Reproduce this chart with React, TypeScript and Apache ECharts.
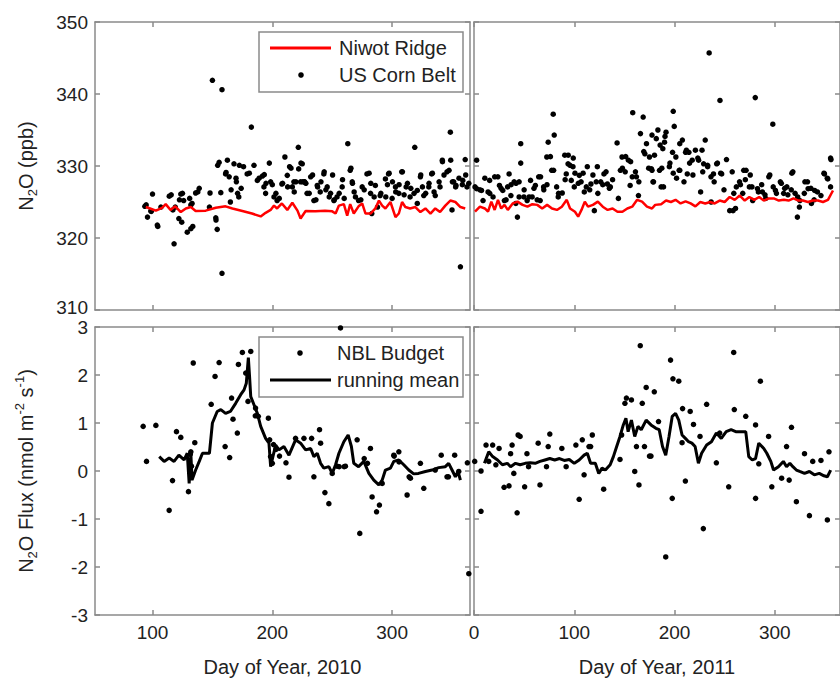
import React, { useEffect, useRef } from "react";
import * as echarts from "echarts";

// ---------- data ----------
const xTicks2010 = [100, 200, 300];
const xTicks2011 = [0, 100, 200, 300];

const niwot2010: [number, number][] = [
  [94.4,324.3],[98,324.1],[102.8,323.8],[108,324.2],[111,324.7],[115,323.9],[119,324.4],[123.6,323.6],[127.8,324.1],[132,324.3],[136,323.75],[144.4,323.8],[152.8,324.2],[161,324.4],[166.7,324.1],[175,323.75],[183,323.4],[190.3,323],[194.4,323.5],[198.6,323.9],[201.4,324.5],[204,324.1],[208,324.8],[212.5,323.9],[216.7,324.9],[221,323.8],[223.6,322.7],[227.8,323.75],[236,323.7],[244,323.8],[250,323.7],[252.8,323.4],[255.6,324.5],[259.7,324.7],[262.5,323.1],[265,324.7],[268,323.4],[272,324.4],[275,324.8],[277.8,323.4],[282,323.4],[286,324.1],[289,325.2],[291.7,324.5],[294.4,324.1],[298.6,325],[302.8,322.9],[305.6,323.4],[308.3,325],[311,324.3],[315,324.1],[319.4,324.3],[323.6,323.6],[327.8,324.1],[332,323.4],[336,324.1],[340,323.6],[344.4,324.5],[348.6,325.2],[352.8,325],[357,324.3],[361,324.1]
];

const cornBelt2010: [number, number][] = [
  [93.6,324.4],[94.7,324.6],[95.8,322.9],[98.6,323.75],[99,323.7],[100,326.1],[104,321.8],[104.4,321.6],[107,324.3],[114,325.8],[115.6,326],[117,323.9],[118,319.2],[119,324.3],[122.5,325.3],[122,322.7],[123.6,326.1],[124.4,322.2],[125,326.2],[126,325.2],[129,320.8],[131,325.5],[132,321.3],[132,324.6],[133,324.8],[133.6,321.6],[136,326.25],[137.8,326.4],[139,326.9],[147.5,324.3],[148,326.25],[150,341.9],[152.8,322.8],[153,322.5],[154,321.2],[154.4,330.1],[155.6,330.5],[157,326.3],[158,340.6],[158,315.1],[161,328.9],[161.4,329.1],[162.5,330.8],[164,328.5],[165,325],[165.6,326.7],[168,330.3],[169.7,328.3],[170,327.8],[171,326.2],[172,325.7],[172.5,330.1],[174,326.9],[176,329.9],[179,328.9],[180.8,329],[182.5,335.4],[184.7,330.1],[187.5,328],[189,328.3],[191.7,328.6],[193,327.1],[193.3,328.8],[194.4,326.2],[194.7,327.6],[197.5,330.4],[198.6,327.8],[200,327.4],[201.4,325.7],[203,326.2],[204,325.2],[205.8,325.5],[208,327.5],[208.6,327.6],[210.5,331.25],[212.5,328.7],[212.8,327.1],[214.4,329.9],[215.6,329.7],[216.7,327.1],[218,327.8],[218.3,326.4],[219.7,327.8],[221.7,332.6],[222,329.6],[223.6,327.8],[223.9,330.4],[225,330.3],[225.3,327.8],[227,327.8],[228,327.6],[229,326.2],[232,328.5],[234.7,325.2],[237.5,327.3],[240,326.4],[243,328.9],[245.8,327.1],[248.6,326.2],[251.4,325.2],[254,325.7],[258.3,327.1],[263,333.1],[265,329.4],[266.7,327.8],[269.4,325.7],[272,325.2],[275,327.1],[279,328.9],[282,326.2],[283,323.4],[286,327.3],[290,325.9],[294.4,328.2],[297,328.9],[300,325.5],[302.8,327.1],[305.6,326.2],[308,329.2],[311.7,327.1],[315,325.7],[318.9,332.6],[321,326.6],[323.6,328.5],[326.4,325.9],[330.6,327.1],[333,328.9],[336,325.9],[340,327.1],[342,330.6],[345.8,329.2],[348.6,334.7],[350,323.9],[351.4,327.8],[353.3,327.3],[357,316],[359,328],[361,330.9],[362.5,327.1],
  [226.7,327.8],[233.6,328.75],[230.8,326.2],[237.8,327.1],[236.4,325.3],[240.6,327.8],[243.3,329.2],[244.7,326.7],[247.5,325.7],[250.3,328.75],[251.7,325.3],[255.8,326.2],[258.6,328.1],[260,325.5],[265.6,329.7],[266.9,327.6],[268.3,326.4],[273.9,325.3],[276.7,326.7],[280.8,329],[282.2,327.6],[285,325.7],[287.8,324.3],[290.6,326.2],[294.7,325.7],[297.5,329],[296.1,327.4],[300.3,327.8],[303,326.4],[305.8,327.4],[308.6,329.2],[310,326],[312.8,327.6],[315.6,326.9],[318.3,326.2],[321,324.8],[323.9,328.75],[325.3,327.1],[328,326.2],[330.8,327.6],[333.6,329],[335,326.4],[339.2,327.8],[341.9,330.8],[343.3,328.75],[347.5,329.4],[348.9,330.8],[350.3,327.8],[353,327.1],[355.8,328.3],[358.6,327.4],[361.4,328.75],[364,327.6]
];

const niwot2011: [number, number][] = [
  [1,323.65],[5.9,324.35],[10.8,324.1],[14,323.65],[17.3,325.05],[20.6,323.9],[23.9,325.3],[27.1,324.1],[30.4,324.6],[33.7,323.9],[38.6,324.8],[43.5,325.05],[48.4,324.6],[53.3,324.35],[58.2,324.7],[63.1,324.6],[68,324.1],[72.9,324.6],[77.8,324.1],[82.7,323.9],[87.6,324.35],[92.5,325.3],[95.8,324.1],[100.7,323.65],[103.9,322.96],[107.2,323.9],[110.5,325.05],[113.7,324.35],[118.6,324.6],[123.5,325.05],[128.4,324.35],[133.3,323.9],[138.2,324.1],[143.1,323.65],[148,323.65],[152.9,324.1],[157.8,324.35],[162.7,325.3],[167.6,325.05],[172.5,324.35],[177.5,324.1],[180.7,324.6],
  [186.6,324.7],[191.5,325.2],[196.4,325],[201,325.3],[206,324.8],[211,325.1],[216,324.8],[220.8,324.4],[225.7,325],[230.6,324.8],[235.5,325],[240,324.8],[245,325.2],[250,325],[255,325.7],[260,325.3],[265,325.9],[270,325.2],[274.6,325.7],[279.5,325.3],[284.4,325.7],[289,325.2],[294,325.5],[299,325.5],[304,325.2],[309,325.3],[313.7,325.2],[318.6,325.5],[323.5,325.2],[328,325.2],[333,325],[338,325.2],[343,325.2],[348,325],[353,325.3],[358,326.6]
];

const cornBelt2011: [number, number][] = [
  [2.6,326.85],[2.6,330.8],[7.5,326.6],[9,325.2],[14,326.4],[15.6,328],[19,325.7],[23.8,328.5],[25.4,327.3],[28.7,326.6],[30.3,325.2],[33.5,327.1],[35,328.9],[36.8,325.9],[40,327.8],[41.7,324.8],[43.3,322.9],[45,327.8],[46.6,333.1],[46.6,330.4],[49.8,325.7],[53,325.2],[56.4,328],[58,325.7],[61.2,327.3],[64.5,328.5],[66,325.2],[69.4,327.1],[72.6,331.25],[74,333.3],[77.5,329.4],[79,337.2],[80,334.3],[82.4,327.1],[84,325.7],[88,326.25],[90.5,331.5],[92,328.9],[93.8,330.3],[97,328],[98.7,329.9],[100,327.1],[105,328.7],[106.8,327.8],[110,326.4],[113,329.9],[116.6,327.5],[120,323.8],[123,329.9],[126.4,327.8],[129.6,328.9],[133,327.5],[136,327.1],[142.7,333.2],[144,325.5],[146,329.4],[147.6,331.25],[150.8,329.2],[154,330.8],[155.7,327.3],[158.3,337.4],[162,328.5],[164,325.9],[166,334.5],[168.7,336.8],[170.4,331.7],[172,333.1],[175,331.25],[177,329.6],[178.5,327.8],[180,331.5],[181.8,333.8],[183.4,335],[185,329.4],[186.6,327.1],[188.3,332.4],[190,333.3],[191.5,334.7],[194.8,329.9],[198,331.9],[198.7,337.6],[199.7,335.5],[201.3,331.25],[204.6,329.4],[207.8,333.6],[209.4,327.8],[211,331.9],[212.7,328.9],[214.3,331.9],[217.6,330.8],[220.8,332.2],[224,330.8],[226,326.4],[227.4,332.2],[229,330.3],[230.6,333.6],[233,329.9],[234.5,345.7],[236.5,325],[238.8,328.9],[242,330.3],[245.3,339.1],[247,328.9],[251.8,330.9],[255,323.8],[258.3,323.8],[261.6,327.1],[264.8,327.8],[268,326.2],[271.3,329.4],[274.6,327.1],[277.9,325.2],[280.5,339.5],[282.7,326.85],[287.6,326.4],[290.9,325.5],[294,328.5],[298,335.8],[300.6,326.6],[305.5,327.8],[308.8,326.2],[312,327.1],[317,329],[320.2,326.2],[322.5,322.9],[325,325.2],[330,327.8],[333.2,326.85],[336.5,324.8],[339.7,326.6],[346,325.9],[349.5,328.9],[352.8,328.2],[356,330.9],
  [1,327.1],[5.9,326.7],[10.8,328.3],[15.7,326.2],[20.6,328.5],[27,326.9],[32,325.3],[37,327.4],[41.9,327.6],[45,325.7],[50,326.7],[55,325.7],[59.8,326.9],[63,325.3],[66.4,328.5],[69.6,326.7],[72.8,327.4],[76.2,331.3],[79.4,329.4],[84.3,326.2],[90.9,328.1],[94,331.5],[95.8,330.1],[99,331.1],[100.7,329],[104,327.6],[108.8,329],[112,327.1],[115.4,326.7],[118.6,328.75],[121.9,327.8],[123.5,326.2],[128.4,327.4],[131.7,329.2],[135,326.9],[138.2,328.1],[148,329.7],[151.3,331.3],[156.2,330.6],[157.8,328.5],[161,329.2],[164.4,327.8],[169.3,332],[174.2,329.7],[177.5,334.3],
  [177.5,329.4],[179,327.8],[185.6,332.9],[187.3,329.7],[189,327.1],[190.5,334.1],[195.4,330.4],[198.7,329],[202,328.3],[205.2,329.4],[205.2,333.1],[211.8,332.2],[215,330.4],[218.3,328.75],[223.2,331.1],[228.1,329.2],[233,330.1],[236.3,328.5],[239.5,327.8],[242.8,330.4],[246,329],[249.3,326.7],[257.5,329.2],[259.1,326.2],[260.8,324.1],[265.7,327.4],[269,329.4],[270.6,328.1],[275.5,328.75],[277.2,327.1],[283.6,326.4],[286.9,327.4],[290.2,326],[295,328.75],[298.4,327.1],[301.6,326.2],[306.5,327.6],[309.8,326.9],[313,326],[316.4,326.7],[318,329.2],[322.8,325.7],[324.5,324.3],[329.4,326.2],[332.6,327.8],[336,326.9],[339.2,325.3],[342.5,326.4],[349,329],[352.3,328.3],[355.6,331.1],[355.6,327.1]
];

const nbl2010: [number, number][] = [
  [92.2,0.93],[95,0.2],[102.8,0.95],[113.9,-0.82],[116.7,-0.2],[120,0.82],[123.6,0.7],[130,-0.43],[131.5,0.35],[132,0.4],[132.5,0.1],[134,2.25],[135.3,0.59],[149,1.39],[152.2,1.97],[155.6,2.26],[160.6,0.51],[164.4,0.28],[166,1.52],[167.2,1.08],[170.8,0.79],[171.7,2.22],[175,2.47],[177.8,2.04],[179.7,1.45],[182,2.49],[185.8,1.15],[186,1.31],[188.3,1.14],[196.7,1.1],[197.8,0.65],[198.5,0.3],[200,0.16],[201,0.55],[203,0.45],[206,0.31],[211.4,0.17],[213.9,-0.13],[219.4,0.68],[226.4,0.68],[232.8,0.68],[234.7,-0.12],[239.4,0.86],[240.3,0.58],[243.9,-0.45],[247.2,-0.68],[250,-0.05],[254,0.1],[255.8,0.09],[256.9,2.98],[260,0.09],[261,0.1],[270.8,0.65],[273,-1.3],[276.7,0.26],[279.4,0.16],[281.9,0.47],[283.3,-0.54],[287,-0.85],[289.4,-0.71],[291.7,-0.26],[301.4,0.33],[301.7,0.31],[305.6,0.4],[305.8,0.19],[312.5,-0.5],[314.2,-0.12],[315.3,-0.15],[323.6,0.16],[326.4,-0.36],[336,0.02],[341,0.33],[345.8,-0.12],[347,-0.12],[352.2,0.33],[355.6,-0.01],[362.8,0.17],[364,-2.14]
];

const mean2010: [number, number][] = [
  [105.6,0.3],[109.7,0.2],[113.9,0.27],[118,0.2],[122,0.33],[126.4,0.23],[129,0.37],[130.6,-0.26],[132,0.37],[133,-0.19],[136,0.02],[139,0.2],[141.7,0.37],[145.8,0.37],[147.5,0.37],[150,1.0],[154,1.24],[157,1.28],[161,1.2],[165,1.24],[169.4,1.41],[173.6,1.59],[176.4,1.69],[178.3,1.83],[180,2.36],[181,1.97],[182,1.55],[184.7,1.38],[187.5,1.2],[190.3,0.93],[194.4,0.68],[197.2,0.58],[198.6,0.09],[200.5,0.3],[202.8,0.54],[205.6,0.44],[209.7,0.51],[213.9,0.33],[219.4,0.65],[223.6,0.58],[227.8,0.44],[232,0.47],[234.7,0.3],[237.5,0.37],[240.3,0.16],[243,0.06],[247.2,0.09],[250,-0.05],[252.8,0.13],[255.6,0.37],[259.7,0.61],[263.3,0.75],[266,0.51],[268,0.16],[272,0.09],[276.4,0.2],[280.6,-0.05],[284.7,-0.19],[288.9,-0.29],[291.7,-0.19],[294.4,0.02],[298.6,0.06],[301.4,0.2],[305.6,0.23],[309.7,0.13],[313.9,0.02],[318,-0.06],[322,-0.05],[327.8,-0.01],[333.3,0.02],[338.9,0.07],[344.4,0.09],[347.2,0.16],[350,0.02],[352.8,-0.12],[355,-0.01],[357,-0.19]
];

const nbl2011: [number, number][] = [
  [0.7,0.2],[7,0.0],[7,-0.84],[12,0.54],[14.7,0.2],[18.6,0.54],[21.8,0.13],[25,0.47],[30,-0.34],[34.9,-0.31],[36.5,0.36],[38,0.54],[39.7,-0.05],[43,-0.87],[44,0.75],[46,0.72],[50.5,-0.33],[52.8,0.36],[54.4,0.09],[64,0.58],[65.8,-0.29],[72.3,0.09],[74,0.51],[75.6,0.77],[87.6,0.47],[91.9,0.09],[101.6,0.54],[104.9,-0.59],[108,0.65],[109.8,-0.08],[114.7,0.51],[116.3,0.51],[118,0.75],[129.3,-0.38],[145.6,0.24],[147.2,0.75],[150.5,1.41],[152,1.52],[157,1.48],[160.3,-0.01],[162,0.51],[164.5,-0.29],[165.8,2.61],[167.8,1.41],[170,0.51],[171.7,1.74],[175,0.31],[176.5,0.31],[179.8,1.65],[184,1.03],[191.2,-1.79],[196,2.31],[197.7,-0.57],[198.4,1.92],[204.2,1.87],[207.5,0.59],[208,1.3],[210.8,-0.21],[215.6,1.24],[218.9,0.97],[225.4,0.72],[228.7,-1.2],[232,1.39],[241.7,0.17],[245,0.79],[254,-0.33],[259,2.47],[259.6,1.28],[271,1.14],[280.8,0.96],[280.8,-0.57],[284,0.15],[285.6,1.87],[293.8,0.72],[297,-0.33],[306.8,-0.15],[311.7,0.51],[314.3,-0.19],[316.6,0.91],[321.5,-0.64],[329.6,0.36],[334.5,-0.93],[337.8,0.2],[346,0.22],[352.4,-1.02],[354,0.4]
];

const mean2011: [number, number][] = [
  [10.4,0.16],[14.7,0.4],[18.6,0.3],[23.5,0.23],[28.3,0.13],[33.2,0.16],[36.5,0.09],[41.4,0.16],[46,0.13],[51,0.16],[56,0.17],[61,0.16],[65.8,0.2],[70.7,0.23],[75.6,0.26],[80.5,0.23],[85.3,0.26],[90,0.22],[95,0.24],[100,0.16],[104.9,0.23],[109.8,0.33],[113,0.37],[116.3,0.16],[121,0.16],[124.4,-0.05],[127.7,0.06],[131,0.02],[135.8,0.13],[139,0.3],[142.3,0.51],[145.6,0.72],[148.9,0.96],[151.5,1.1],[153.7,0.82],[157,1.06],[160.3,0.72],[163.5,0.93],[166.8,0.86],[171.7,1.06],[176.5,0.96],[181.4,0.89],[184.7,0.86],[188,0.51],[191.2,0.33],[194.5,0.72],[197.7,1.14],[201,1.2],[204.2,1.06],[207.5,0.75],[210.8,0.68],[214,0.61],[217.3,0.58],[220.5,0.51],[223.8,0.16],[227,0.37],[232,0.54],[236.8,0.61],[241.7,0.79],[246.6,0.68],[251.5,0.82],[256.4,0.86],[261,0.82],[266,0.82],[271,0.82],[274,0.3],[277.5,0.23],[280.8,0.26],[284,0.58],[289,0.47],[292,0.37],[296,0.2],[298.7,0.02],[303.6,0.09],[308.5,0.2],[311.7,0.09],[315,0.16],[318,0.09],[321.5,0.02],[324.8,-0.01],[329.6,-0.05],[334.5,-0.01],[339.4,-0.08],[344.3,-0.05],[349,-0.1],[352.4,-0.12],[355.7,0.02]
];

// ---------- styling ----------
const FONT = "'Liberation Sans', Arial, Helvetica, sans-serif";
const TEXT = "#222222";
const FRAME = "#8a8a8a";
const FS = 19;
const FS_TITLE = 20;

const panels = [
  { left: 95, top: 22, width: 375, height: 288, xMin: 52, xMax: 365, yMin: 310, yMax: 350, yInt: 10, ticks: xTicks2010, xLabel: false, yLabel: true, xName: "", yName: "{m|N}{s|2}{m|O (ppb)}" },
  { left: 474, top: 22, width: 372, height: 288, xMin: 0, xMax: 365, yMin: 310, yMax: 350, yInt: 10, ticks: xTicks2011, xLabel: false, yLabel: false, xName: "", yName: "" },
  { left: 95, top: 327, width: 375, height: 288, xMin: 52, xMax: 365, yMin: -3, yMax: 3, yInt: 1, ticks: xTicks2010, xLabel: true, yLabel: true, xName: "Day of Year, 2010", yName: "{m|N}{s|2}{m|O Flux (nmol m}{p|-2}{m| s}{p|-1}{m|)}" },
  { left: 474, top: 327, width: 372, height: 288, xMin: 0, xMax: 365, yMin: -3, yMax: 3, yInt: 1, ticks: xTicks2011, xLabel: true, yLabel: false, xName: "Day of Year, 2011", yName: "" },
];

const lineStyle = { color: FRAME, width: 1.5 };

function buildOption() {
  const grid = panels.map((p) => ({ left: p.left, top: p.top, width: p.width, height: p.height, containLabel: false }));
  const xAxis: any[] = [];
  const yAxis: any[] = [];
  panels.forEach((p, i) => {
    xAxis.push({
      type: "value", gridIndex: i, position: "bottom", min: p.xMin, max: p.xMax,
      axisLine: { show: true, onZero: false, lineStyle },
      axisTick: { show: true, inside: true, length: 5, customValues: p.ticks, lineStyle },
      axisLabel: { show: p.xLabel, customValues: p.ticks, fontSize: FS, color: TEXT, fontFamily: FONT, margin: 8 },
      splitLine: { show: false },
      name: p.xName, nameLocation: "middle", nameGap: 42,
      nameTextStyle: { fontSize: FS_TITLE, color: TEXT, fontFamily: FONT },
    });
    xAxis.push({
      type: "value", gridIndex: i, position: "top", min: p.xMin, max: p.xMax,
      axisLine: { show: true, onZero: false, lineStyle },
      axisTick: { show: true, inside: true, length: 5, customValues: p.ticks, lineStyle },
      axisLabel: { show: false }, splitLine: { show: false },
    });
    yAxis.push({
      type: "value", gridIndex: i, position: "left", min: p.yMin, max: p.yMax, interval: p.yInt,
      axisLine: { show: true, onZero: false, lineStyle },
      axisTick: { show: true, inside: true, length: 5, lineStyle },
      axisLabel: {
        show: p.yLabel, fontSize: FS, color: TEXT, fontFamily: FONT, margin: 7,
        // the lowest label of the upper panel sits just above the lower panel's top label
        formatter: (v: number) => (i === 0 && v === p.yMin ? "{lo|" + v + "}" : String(v)),
        rich: { lo: { fontSize: FS, color: TEXT, fontFamily: FONT, padding: [0, 0, 5, 0] } },
      },
      splitLine: { show: false },
      name: p.yName, nameLocation: "middle", nameGap: 56,
      nameTextStyle: {
        fontFamily: FONT, color: TEXT,
        rich: {
          m: { fontSize: FS_TITLE, lineHeight: 26, fontFamily: FONT, color: TEXT },
          s: { fontSize: 13, lineHeight: 13, verticalAlign: "bottom", fontFamily: FONT, color: TEXT },
          p: { fontSize: 13, lineHeight: 13, verticalAlign: "top", fontFamily: FONT, color: TEXT },
        },
      },
    });
    yAxis.push({
      type: "value", gridIndex: i, position: "right", min: p.yMin, max: p.yMax, interval: p.yInt,
      axisLine: { show: true, onZero: false, lineStyle },
      axisTick: { show: true, inside: true, length: 5, lineStyle },
      axisLabel: { show: false }, splitLine: { show: false },
    });
  });

  const scatter = (data: [number, number][], i: number) => ({
    type: "scatter", xAxisIndex: 2 * i, yAxisIndex: 2 * i, data,
    symbol: "circle", symbolSize: 5.5, itemStyle: { color: "#000000", opacity: 1 }, silent: true,
  });
  const line = (data: [number, number][], i: number, color: string, width: number) => ({
    type: "line", xAxisIndex: 2 * i, yAxisIndex: 2 * i, data,
    showSymbol: false, symbol: "none", lineStyle: { color, width }, silent: true,
  });

  const series = [
    line(niwot2010, 0, "#ff0000", 2.5),
    scatter(cornBelt2010, 0),
    line(niwot2011, 1, "#ff0000", 2.5),
    scatter(cornBelt2011, 1),
    scatter(nbl2010, 2),
    line(mean2010, 2, "#000000", 3),
    scatter(nbl2011, 3),
    line(mean2011, 3, "#000000", 3),
  ];

  const txt = (x: number, y: number, text: string) => ({
    type: "text", x, y, z: 101,
    style: { text, fontSize: FS_TITLE, fontFamily: FONT, fill: TEXT, align: "left", verticalAlign: "middle" },
  });
  const graphic = [
    { type: "rect", z: 100, shape: { x: 259, y: 32, width: 204, height: 60 }, style: { fill: "#ffffff", stroke: FRAME, lineWidth: 1.5 } },
    { type: "line", z: 101, shape: { x1: 270, y1: 48, x2: 331, y2: 48 }, style: { stroke: "#ff0000", lineWidth: 3 } },
    txt(339, 48, "Niwot Ridge"),
    { type: "circle", z: 101, shape: { cx: 301, cy: 75, r: 2.8 }, style: { fill: "#000000" } },
    txt(339, 75, "US Corn Belt"),
    { type: "rect", z: 100, shape: { x: 259, y: 337, width: 204, height: 60 }, style: { fill: "#ffffff", stroke: FRAME, lineWidth: 1.5 } },
    { type: "circle", z: 101, shape: { cx: 300, cy: 353, r: 2.8 }, style: { fill: "#000000" } },
    txt(337, 353, "NBL Budget"),
    { type: "line", z: 101, shape: { x1: 270, y1: 380, x2: 331, y2: 380 }, style: { stroke: "#000000", lineWidth: 3 } },
    txt(337, 380, "running mean"),
  ];

  return {
    animation: false,
    backgroundColor: "#ffffff",
    textStyle: { fontFamily: FONT },
    grid, xAxis, yAxis, series, graphic,
  };
}

export default function App() {
  const ref = useRef<HTMLDivElement>(null);
  useEffect(() => {
    if (!ref.current) return;
    const chart = echarts.init(ref.current, undefined, { renderer: "svg" });
    chart.setOption(buildOption() as any);
    return () => chart.dispose();
  }, []);
  return <div ref={ref} style={{ position: "fixed", left: 0, top: 0, width: 840, height: 678 }} />;
}
